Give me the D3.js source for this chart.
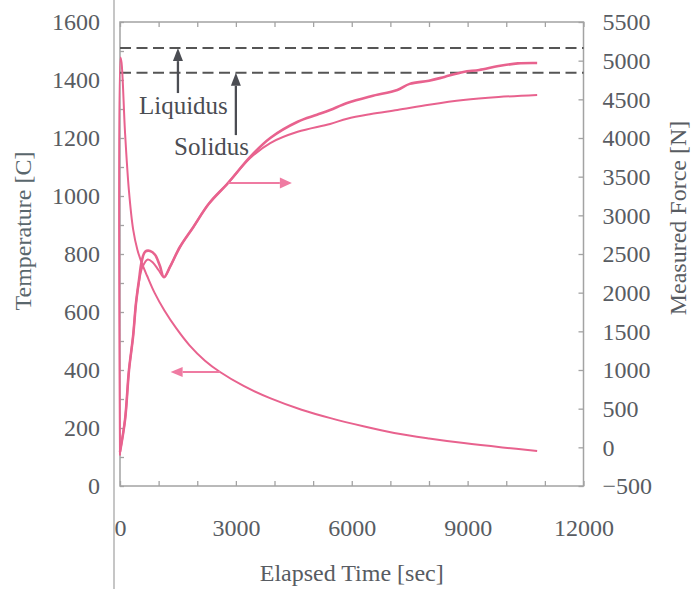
<!DOCTYPE html>
<html>
<head>
<meta charset="utf-8">
<script src="https://cdn.jsdelivr.net/npm/d3@7"></script>
<style>
  html, body { margin: 0; padding: 0; background: #ffffff; }
  svg { display: block; }
  text { font-family: "Liberation Serif", "Times New Roman", serif; }
</style>
</head>
<body>
<svg id="chart" width="698" height="589"></svg>
<script>
// Casting run: melt temperature and measured force against elapsed time.

// Temperature record [C]
const tempTime = [0, 12, 40, 130, 230, 340, 450, 560, 700, 900, 1150, 1450, 1800, 2200, 2590, 3200, 3900, 4700, 5450, 6300, 7100, 8000, 8900, 9900, 10800];
const tempValue = [105, 1478, 1460, 1220, 1020, 885, 815, 770, 725, 665, 605, 545, 485, 432, 393, 345, 302, 263, 234, 206, 183, 164, 148, 133, 121];

// Measured force, first load cell [N]
const forceTimeA = [0, 130, 233, 337, 415, 492, 560, 650, 780, 907, 1030, 1140, 1300, 1555, 1900, 2300, 2800, 3370, 3890, 4600, 5100, 5440, 5880, 6500, 7180, 7500, 8000, 8400, 8890, 9300, 9800, 10300, 10800];
const forceValueA = [-60, 354, 1000, 1427, 1867, 2165, 2400, 2530, 2540, 2490, 2350, 2200, 2340, 2594, 2850, 3150, 3420, 3756, 4000, 4210, 4300, 4362, 4452, 4540, 4621, 4700, 4740, 4790, 4854, 4880, 4930, 4965, 4970];

// Measured force, second load cell [N]
const forceTimeB = [0, 130, 233, 337, 415, 492, 580, 720, 850, 1000, 1140, 1300, 1555, 1900, 2300, 2800, 3370, 3890, 4600, 5440, 5880, 6500, 7180, 8000, 8890, 9800, 10800];
const forceValueB = [-60, 354, 1000, 1427, 1867, 2140, 2330, 2430, 2390, 2290, 2200, 2340, 2594, 2850, 3150, 3420, 3740, 3935, 4080, 4181, 4250, 4310, 4362, 4430, 4491, 4530, 4557];

// Phase boundaries [C]
const phaseNames = ["Liquidus", "Solidus"];
const phaseTemps = [1510, 1425];

// Axis ticks
const timeTicks = [0, 3000, 6000, 9000, 12000];
const tempTicks = [0, 200, 400, 600, 800, 1000, 1200, 1400, 1600];
const forceTicks = [-500, 0, 500, 1000, 1500, 2000, 2500, 3000, 3500, 4000, 4500, 5000, 5500];

const svg = d3.select("#chart");
const plotLeft = 120, plotRight = 583.5, plotTop = 22, plotBottom = 486;

const x = d3.scaleLinear().domain([0, 12000]).range([plotLeft, plotRight]);
const yT = d3.scaleLinear().domain([0, 1600]).range([plotBottom, plotTop]);
const yF = d3.scaleLinear().domain([-500, 5500]).range([plotBottom, plotTop]);

const pink = "#e8628e";
const pinkHead = "#ef7ba2";
const frameCol = "#a3a3a3";
const textCol = "#585c62";
const darkCol = "#4b4d53";
const fontSize = 24;

// Binding edge line running down the page
svg.append("line")
  .attr("x1", 114).attr("x2", 114).attr("y1", 0).attr("y2", 589)
  .attr("stroke", "#c6c6c6").attr("stroke-width", 2);

// Plot frame
svg.append("rect")
  .attr("x", plotLeft).attr("y", plotTop)
  .attr("width", plotRight - plotLeft).attr("height", plotBottom - plotTop)
  .attr("fill", "none").attr("stroke", frameCol).attr("stroke-width", 1.5);

// Inward tick marks on all four sides
function tickGroup(axis, tx, ty) {
  const g = svg.append("g").attr("transform", `translate(${tx},${ty})`).call(axis);
  g.select(".domain").remove();
  g.selectAll(".tick line").attr("stroke", frameCol).attr("stroke-width", 1.3);
  g.selectAll(".tick text").remove();
  return g;
}
const minorTime = d3.range(0, 12001, 1000);
tickGroup(d3.axisBottom(x).tickValues(minorTime).tickSize(-5), 0, plotBottom);
tickGroup(d3.axisTop(x).tickValues(minorTime).tickSize(-5), 0, plotTop);
tickGroup(d3.axisLeft(yT).tickValues(d3.range(0, 1601, 100)).tickSize(-4), plotLeft, 0);
tickGroup(d3.axisRight(yF).tickValues(forceTicks).tickSize(-5), plotRight, 0);

// Tick labels
function labelGroup(axis, tx, ty) {
  const g = svg.append("g").attr("transform", `translate(${tx},${ty})`).call(axis);
  g.select(".domain").remove();
  g.selectAll(".tick line").remove();
  g.selectAll(".tick text")
    .attr("fill", textCol)
    .style("font-family", '"Liberation Serif", "Times New Roman", serif')
    .style("font-size", fontSize + "px");
  return g;
}
labelGroup(d3.axisBottom(x).tickValues(timeTicks).tickSize(0).tickPadding(33).tickFormat(d3.format("d")), 0, plotBottom);
labelGroup(d3.axisLeft(yT).tickValues(tempTicks).tickSize(0).tickPadding(20).tickFormat(d3.format("d")), plotLeft, 0);
labelGroup(d3.axisRight(yF).tickValues(forceTicks).tickSize(0).tickPadding(19).tickFormat(d3.format("d")), plotRight, 0);

// Axis titles
svg.append("text")
  .attr("x", (plotLeft + plotRight) / 2).attr("y", 581)
  .attr("text-anchor", "middle").attr("fill", textCol)
  .style("font-size", fontSize + "px")
  .text("Elapsed Time [sec]");

svg.append("text")
  .attr("transform", `translate(31,231) rotate(-90)`)
  .attr("text-anchor", "middle").attr("fill", "#5a676d")
  .style("font-size", fontSize + "px")
  .text("Temperature [C]");

svg.append("text")
  .attr("transform", `translate(686,218) rotate(-90)`)
  .attr("text-anchor", "middle").attr("fill", textCol)
  .style("font-size", fontSize + "px")
  .text("Measured Force [N]");

// Liquidus / solidus reference lines
svg.append("g").selectAll("line")
  .data(phaseTemps)
  .join("line")
  .attr("x1", x(0)).attr("x2", x(12000))
  .attr("y1", d => yT(d)).attr("y2", d => yT(d))
  .attr("stroke", "#555555").attr("stroke-width", 2)
  .attr("stroke-dasharray", "11,5.5");

// Arrow helper: shaft plus a filled triangular head at (x2, y2)
function arrow(x1, y1, x2, y2, color, width, headLen, headW) {
  const ang = Math.atan2(y2 - y1, x2 - x1);
  const bx = x2 - headLen * Math.cos(ang), by = y2 - headLen * Math.sin(ang);
  svg.append("line")
    .attr("x1", x1).attr("y1", y1).attr("x2", bx).attr("y2", by)
    .attr("stroke", color).attr("stroke-width", width);
  const px = -Math.sin(ang) * headW / 2, py = Math.cos(ang) * headW / 2;
  svg.append("path")
    .attr("d", `M${x2},${y2}L${bx + px},${by + py}L${bx - px},${by - py}Z`)
    .attr("fill", color);
}

// Phase boundary call-outs
const phaseArrowTime = [1500, 3000];
const phaseArrowBase = [1355, 1210];
phaseNames.forEach((name, i) => {
  arrow(x(phaseArrowTime[i]), yT(phaseArrowBase[i]), x(phaseArrowTime[i]), yT(phaseTemps[i]),
        darkCol, 2.3, 13, 10);
});
svg.append("text").attr("x", x(490)).attr("y", yT(1283))
  .attr("fill", darkCol).style("font-size", "25px").text(phaseNames[0]);
svg.append("text").attr("x", x(1400)).attr("y", yT(1141))
  .attr("fill", darkCol).style("font-size", "25px").text(phaseNames[1]);

// Curves
const smooth = d3.curveCatmullRom.alpha(0.5);
const tempLine = d3.line().x(d => x(d[0])).y(d => yT(d[1])).curve(smooth);
const forceLine = d3.line().x(d => x(d[0])).y(d => yF(d[1])).curve(smooth);

svg.append("path")
  .datum(d3.zip(forceTimeB, forceValueB))
  .attr("d", forceLine)
  .attr("fill", "none").attr("stroke", pink).attr("stroke-width", 2)
  .attr("stroke-linejoin", "round");

svg.append("path")
  .datum(d3.zip(forceTimeA, forceValueA))
  .attr("d", forceLine)
  .attr("fill", "none").attr("stroke", pink).attr("stroke-width", 2.6)
  .attr("stroke-linejoin", "round");

svg.append("path")
  .datum(d3.zip(tempTime, tempValue))
  .attr("d", tempLine)
  .attr("fill", "none").attr("stroke", pink).attr("stroke-width", 2)
  .attr("stroke-linejoin", "round");

// Series pointers: force reads on the right axis, temperature on the left
arrow(x(2800), yF(3419), x(4450), yF(3419), pinkHead, 2, 12, 11);
arrow(x(2590), yT(393), x(1310), yT(393), pinkHead, 2, 12, 10);
</script>
</body>
</html>
